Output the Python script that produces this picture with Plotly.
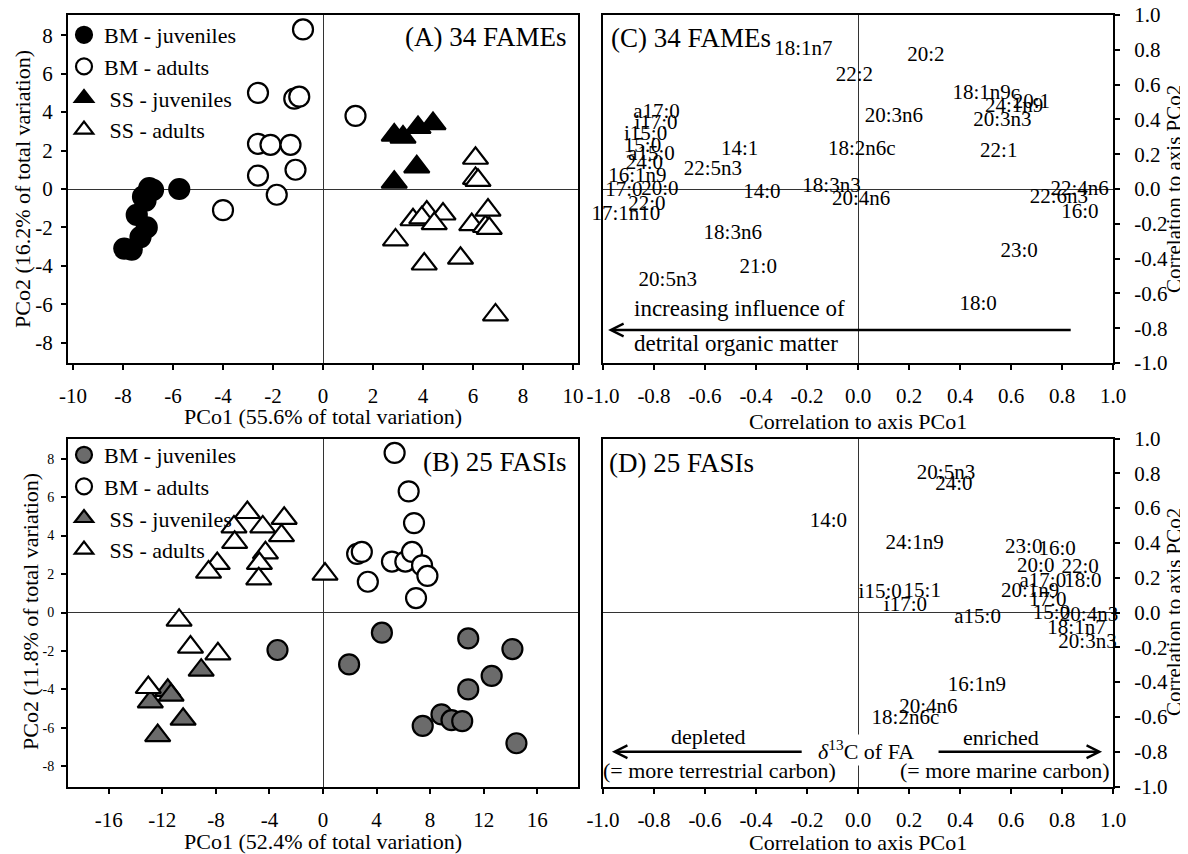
import plotly.graph_objects as go

FONT = "Liberation Serif"
GRAY = "#6b6b6b"

# ---------------- Panel A: 34 FAMEs (PCO scores) ----------------
bmj_A_x = [-5.75, -6.95, -6.8, -7.2, -7.1, -7.45, -7.05, -7.3, -7.95, -7.65]
bmj_A_y = [0.0, 0.05, -0.05, -0.4, -0.6, -1.35, -2.0, -2.5, -3.1, -3.15]
bma_A_x = [-0.8, -2.6, -1.15, -0.95, -2.6, -2.1, -1.3, -2.6, -1.1, -1.85, -4.0, 1.3]
bma_A_y = [8.3, 5.0, 4.7, 4.8, 2.35, 2.3, 2.3, 0.7, 1.0, -0.3, -1.1, 3.8]
ssj_A_x = [2.85, 3.2, 3.8, 4.4, 3.75, 2.85]
ssj_A_y = [2.8, 2.7, 3.2, 3.4, 1.15, 0.35]
ssa_A_x = [6.1, 6.1, 6.2, 4.15, 4.8, 3.6, 3.95, 4.45, 2.9, 4.05, 5.5, 5.95, 6.5, 6.65, 6.6, 6.9]
ssa_A_y = [1.6, 0.55, 0.45, -1.2, -1.3, -1.6, -1.5, -1.8, -2.65, -3.9, -3.6, -1.85, -1.95, -2.05, -1.1, -6.55]

# ---------------- Panel B: 25 FASIs (PCO scores) ----------------
bmj_B_x = [-3.4, 4.4, 1.95, 10.85, 14.15, 12.6, 10.85, 8.85, 9.6, 10.4, 7.45, 14.45]
bmj_B_y = [-1.95, -1.05, -2.7, -1.35, -1.9, -3.3, -4.0, -5.3, -5.6, -5.65, -5.9, -6.8]
bma_B_x = [5.35, 6.4, 6.8, 2.55, 2.9, 5.15, 6.15, 6.65, 7.4, 7.8, 3.35, 6.95]
bma_B_y = [8.3, 6.3, 4.65, 3.05, 3.15, 2.65, 2.65, 3.15, 2.45, 1.9, 1.6, 0.75]
ssj_B_x = [-9.1, -11.6, -11.35, -12.9, -10.45, -12.35]
ssj_B_y = [-3.0, -4.05, -4.3, -4.65, -5.55, -6.4]
ssa_B_x = [-5.65, -6.65, -4.5, -2.9, -3.1, -6.6, -4.3, -4.75, -4.8, -7.9, -8.55, 0.15, -10.75, -9.9, -7.85, -13.05]
ssa_B_y = [5.2, 4.45, 4.45, 4.9, 4.0, 3.65, 3.1, 2.55, 1.75, 2.55, 2.1, 2.0, -0.4, -1.8, -2.15, -3.9]

# ---------------- Panel C: correlations, 34 FAMEs ----------------
c_labels = ["18:1n7", "22:2", "20:2", "18:1n9c", "20:1", "24:1n9", "20:3n6", "20:3n3",
            "a17:0", "i17:0", "i15:0", "15:0", "a15:0", "24:0", "14:1", "18:2n6c",
            "22:1", "22:5n3", "16:1n9", "17:0", "20:0", "14:0", "18:3n3", "20:4n6",
            "22:4n6", "22:6n3", "16:0", "22:0", "17:1n10", "18:3n6", "23:0", "21:0",
            "20:5n3", "18:0"]
c_x = [-0.214, -0.014, 0.266, 0.503, 0.68, 0.612, 0.141, 0.566,
       -0.79, -0.792, -0.833, -0.845, -0.81, -0.838, -0.464, 0.015,
       0.552, -0.569, -0.865, -0.918, -0.777, -0.377, -0.104, 0.012,
       0.869, 0.788, 0.87, -0.828, -0.91, -0.491, 0.632, -0.391,
       -0.746, 0.471]
c_y = [0.801, 0.653, 0.763, 0.545, 0.494, 0.47, 0.415, 0.394,
       0.44, 0.375, 0.31, 0.243, 0.195, 0.148, 0.223, 0.223,
       0.214, 0.11, 0.072, -0.01, -0.004, -0.023, 0.015, -0.061,
       -0.004, -0.051, -0.136, -0.089, -0.146, -0.256, -0.358, -0.455,
       -0.525, -0.667]

# ---------------- Panel D: correlations, 25 FASIs ----------------
d_labels = ["20:5n3", "24:0", "14:0", "24:1n9", "23:0", "16:0", "20:0", "22:0",
            "a17:0", "18:0", "i15:0", "15:1", "20:1n9", "i17:0", "17:0", "a15:0",
            "15:0", "20:4n3", "18:1n7", "20:3n3", "16:1n9", "20:4n6", "18:2n6c"]
d_x = [0.345, 0.376, -0.116, 0.222, 0.65, 0.781, 0.697, 0.871,
       0.725, 0.882, 0.087, 0.252, 0.675, 0.186, 0.744, 0.469,
       0.759, 0.906, 0.857, 0.9, 0.466, 0.276, 0.186]
d_y = [0.798, 0.735, 0.522, 0.398, 0.373, 0.36, 0.265, 0.255,
       0.179, 0.175, 0.112, 0.122, 0.118, 0.036, 0.065, -0.03,
       -0.008, -0.021, -0.091, -0.173, -0.421, -0.55, -0.611]

# ---------------- Tick labels ----------------
a_xticks = [-10, -8, -6, -4, -2, 0, 2, 4, 6, 8, 10]
a_xtext = ["-10", "-8", "-6", "-4", "-2", "0", "2", "4", "6", "8", "10"]
ab_yticks = [-8, -6, -4, -2, 0, 2, 4, 6, 8]
ab_ytext = ["-8", "-6", "-4", "-2", "0", "2", "4", "6", "8"]
b_xticks = [-16, -12, -8, -4, 0, 4, 8, 12, 16]
b_xtext = ["-16", "-12", "-8", "-4", "0", "4", "8", "12", "16"]
corr_ticks = [-1.0, -0.8, -0.6, -0.4, -0.2, 0.0, 0.2, 0.4, 0.6, 0.8, 1.0]
corr_text = ["-1.0", "-0.8", "-0.6", "-0.4", "-0.2", "0.0", "0.2", "0.4", "0.6", "0.8", "1.0"]

# page has an 8 px body margin, so the figure is drawn 8 px in from the window corner
OFF = 8
W, H = 1188 - OFF, 854 - OFF


def px(x):
    return (x - OFF) / W


def py(y):
    return 1 - (y - OFF) / H


fig = go.Figure()


def add_group(x, y, name, symbol, fill, xa, ya, legend, group, size):
    fig.add_trace(go.Scatter(
        x=x, y=y, mode="markers", name=name, xaxis=xa, yaxis=ya,
        legend=legend, legendgroup=group, cliponaxis=False,
        marker=dict(symbol=symbol, size=size, color=fill,
                    line=dict(color="black", width=2.2)),
    ))


# Panel A
add_group(bmj_A_x, bmj_A_y, "BM - juveniles", "circle", "black", "x", "y", "legend", "a1", 20)
add_group(bma_A_x, bma_A_y, "BM - adults", "circle", "white", "x", "y", "legend", "a2", 20)
add_group(ssj_A_x, ssj_A_y, " SS - juveniles", "triangle-up", "black", "x", "y", "legend", "a3", 22)
add_group(ssa_A_x, ssa_A_y, " SS - adults", "triangle-up", "white", "x", "y", "legend", "a4", 22)

# Panel B
add_group(bmj_B_x, bmj_B_y, "BM - juveniles", "circle", GRAY, "x3", "y3", "legend2", "b1", 20)
add_group(bma_B_x, bma_B_y, "BM - adults", "circle", "white", "x3", "y3", "legend2", "b2", 20)
add_group(ssj_B_x, ssj_B_y, " SS - juveniles", "triangle-up", GRAY, "x3", "y3", "legend2", "b3", 22)
add_group(ssa_B_x, ssa_B_y, " SS - adults", "triangle-up", "white", "x3", "y3", "legend2", "b4", 22)

# Panel C and D labels
fig.add_trace(go.Scatter(x=c_x, y=c_y, mode="text", text=c_labels, xaxis="x2", yaxis="y2",
                         textfont=dict(size=21, family=FONT, color="black"),
                         textposition="middle center", cliponaxis=False,
                         showlegend=False, hoverinfo="skip"))
fig.add_trace(go.Scatter(x=d_x, y=d_y, mode="text", text=d_labels, xaxis="x4", yaxis="y4",
                         textfont=dict(size=21, family=FONT, color="black"),
                         textposition="middle center", cliponaxis=False,
                         showlegend=False, hoverinfo="skip"))

LEFT = [px(68), px(578)]
RIGHT = [px(603), px(1113)]
TOP = [py(363), py(15)]
BOT = [py(786.5), py(438.5)]

common = dict(showline=True, mirror=True, linecolor="black", linewidth=2,
              showgrid=False, zeroline=True, zerolinecolor="#333333", zerolinewidth=1,
              ticks="outside", ticklen=5, tickwidth=1.5, tickcolor="black",
              automargin=False, ticklabeloverflow="allow",
              tickfont=dict(size=21, family=FONT, color="black"))

fig.update_layout(
    width=W, height=H,
    margin=dict(l=0, r=0, t=0, b=0, pad=0, autoexpand=False),
    paper_bgcolor="white", plot_bgcolor="white",
    font=dict(family=FONT, color="black", size=21),
    xaxis=dict(domain=LEFT, range=[-10.2, 10.2], anchor="y", tickmode="array",
               tickvals=a_xticks, ticktext=a_xtext, ticklabelstandoff=8, **common),
    yaxis=dict(domain=TOP, range=[-9.05, 9.05], anchor="x", tickmode="array",
               tickvals=ab_yticks, ticktext=ab_ytext, ticklabelstandoff=4, **common),
    xaxis2=dict(domain=RIGHT, range=[-1, 1], anchor="y2", tickmode="array",
                tickvals=corr_ticks, ticktext=corr_text, ticklabelstandoff=8, **common),
    yaxis2=dict(domain=TOP, range=[-1, 1], anchor="x2", side="right", tickmode="array",
                tickvals=corr_ticks, ticktext=corr_text, ticklabelstandoff=10, **common),
    xaxis3=dict(domain=LEFT, range=[-19.05, 19.05], anchor="y3", tickmode="array",
                tickvals=b_xticks, ticktext=b_xtext, ticklabelstandoff=8, **common),
    yaxis3=dict(domain=BOT, range=[-9.05, 9.05], anchor="x3", tickmode="array",
                tickvals=ab_yticks, ticktext=ab_ytext, ticklabelstandoff=4, **common),
    xaxis4=dict(domain=RIGHT, range=[-1, 1], anchor="y4", tickmode="array",
                tickvals=corr_ticks, ticktext=corr_text, ticklabelstandoff=8, **common),
    yaxis4=dict(domain=BOT, range=[-1, 1], anchor="x4", side="right", tickmode="array",
                tickvals=corr_ticks, ticktext=corr_text, ticklabelstandoff=10, **common),
    legend=dict(x=px(64), y=py(14), xanchor="left", yanchor="top",
                bgcolor="rgba(0,0,0,0)",
                font=dict(size=22, family=FONT), itemsizing="trace", tracegroupgap=8,
                traceorder="normal"),
    legend2=dict(x=px(64), y=py(434), xanchor="left", yanchor="top",
                 bgcolor="rgba(0,0,0,0)",
                 font=dict(size=22, family=FONT), itemsizing="trace", tracegroupgap=8,
                 traceorder="normal"),
    showlegend=True,
)

fig.layout.yaxis3.tickfont.size = 14

ann = []


def txt(text, x, y, size=22, xanchor="center", yanchor="middle", angle=0, xref="paper",
        yref="paper", bg=None):
    d = dict(text=text, x=x, y=y, xref=xref, yref=yref, showarrow=False,
             xanchor=xanchor, yanchor=yanchor, textangle=angle,
             font=dict(size=size, family=FONT, color="black"))
    if bg:
        d["bgcolor"] = bg
    ann.append(d)


# axis titles
txt("PCo1 (55.6% of total variation)", sum(LEFT) / 2, py(416))
txt("PCo2 (16.2% of total variation)", px(22), py(189), angle=-90)
txt("Correlation to axis PCo1", sum(RIGHT) / 2, py(422))
txt("Correlation to axis PCo2", px(1174), py(189), size=21, angle=-90)
txt("PCo1 (52.4% of total variation)", sum(LEFT) / 2, py(841))
txt("PCo2 (11.8% of total variation)", px(30), py(612), angle=-90)
txt("Correlation to axis PCo1", sum(RIGHT) / 2, py(842))
txt("Correlation to axis PCo2", px(1174), py(612), size=21, angle=-90)

# panel labels
txt("(A) 34 FAMEs", px(569), py(37), size=27, xanchor="right")
txt("(C) 34 FAMEs", px(609), py(38), size=27, xanchor="left")
txt("(B) 25 FASIs", px(569), py(462), size=27, xanchor="right")
txt("(D) 25 FASIs", px(607), py(463), size=27, xanchor="left")

# panel C arrow text
txt("increasing influence of", -0.887, -0.686, size=23, xanchor="left", xref="x2", yref="y2")
txt("detrital organic matter", -0.887, -0.89, size=23, xanchor="left", xref="x2", yref="y2")
ann.append(dict(x=-0.98, y=-0.81, ax=0.84, ay=-0.81, xref="x2", yref="y2",
                axref="x2", ayref="y2", text="", showarrow=True, arrowhead=5,
                arrowsize=1, arrowwidth=2.5, arrowcolor="black"))

# panel D arrow texts
txt("<i>δ</i><sup>13</sup>C of FA", 0.03, -0.79, size=22, xref="x4", yref="y4", bg="white")
txt("depleted", -0.585, -0.714, size=22, xref="x4", yref="y4")
txt("(= more terrestrial carbon)", -0.545, -0.906, size=22, xref="x4", yref="y4")
txt("enriched", 0.56, -0.72, size=22, xref="x4", yref="y4")
txt("(= more marine carbon)", 0.575, -0.906, size=22, xref="x4", yref="y4")
ann.append(dict(x=-0.965, y=-0.8, ax=-0.215, ay=-0.8, xref="x4", yref="y4",
                axref="x4", ayref="y4", text="", showarrow=True, arrowhead=5,
                arrowsize=1, arrowwidth=2.5, arrowcolor="black"))
ann.append(dict(x=0.957, y=-0.8, ax=0.31, ay=-0.8, xref="x4", yref="y4",
                axref="x4", ayref="y4", text="", showarrow=True, arrowhead=5,
                arrowsize=1, arrowwidth=2.5, arrowcolor="black"))

fig.update_layout(annotations=ann)

fig.write_html("out.html")
